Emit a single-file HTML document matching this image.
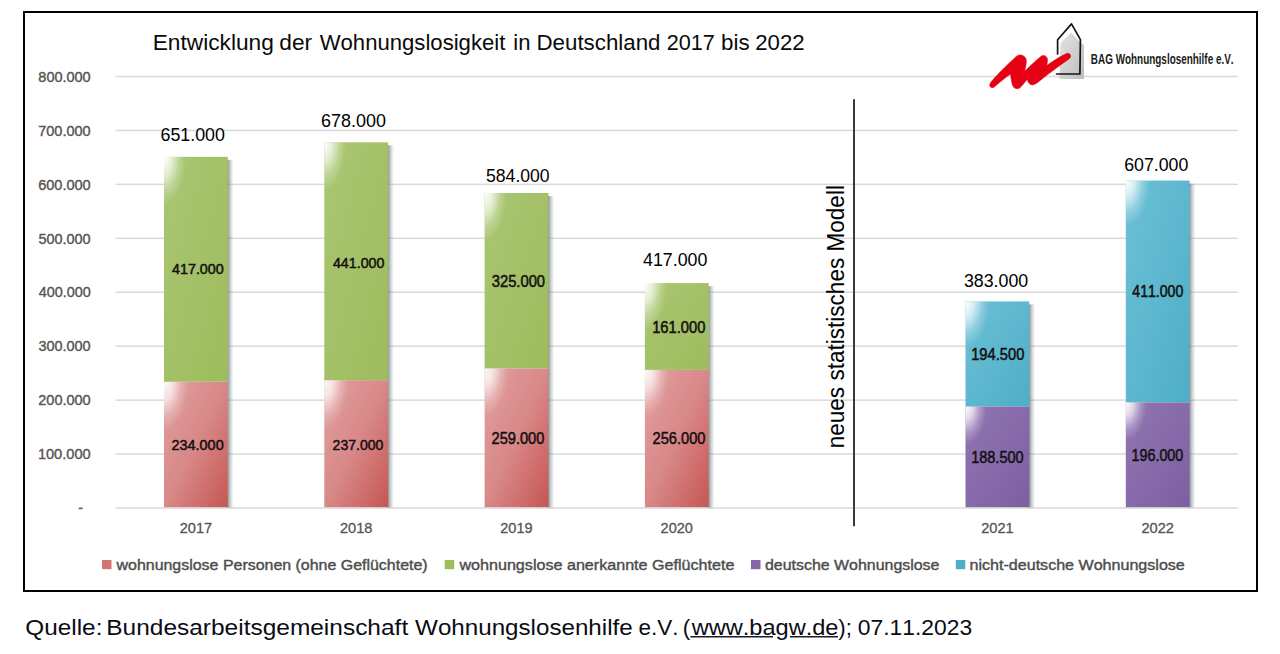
<!DOCTYPE html>
<html><head><meta charset="utf-8"><style>
html,body{margin:0;padding:0;background:#fff;width:1280px;height:654px;overflow:hidden}
svg{display:block;font-family:"Liberation Sans",sans-serif;font-kerning:none}
text{font-kerning:none}
</style></head><body>
<svg width="1280" height="654" viewBox="0 0 1280 654">

<defs><radialGradient id="h1" gradientUnits="userSpaceOnUse" cx="164.00" cy="381.78" fx="164.00" fy="381.78" r="24" gradientTransform="translate(164.00,381.78) scale(1,2.0) translate(-164.00,-381.78)"><stop offset="0" stop-color="#fff" stop-opacity="0.92"/><stop offset="0.35" stop-color="#fff" stop-opacity="0.72"/><stop offset="0.7" stop-color="#fff" stop-opacity="0.25"/><stop offset="1" stop-color="#fff" stop-opacity="0"/></radialGradient><radialGradient id="h2" gradientUnits="userSpaceOnUse" cx="164.00" cy="156.85" fx="164.00" fy="156.85" r="22" gradientTransform="translate(164.00,156.85) scale(1,2.2) translate(-164.00,-156.85)"><stop offset="0" stop-color="#fff" stop-opacity="1"/><stop offset="0.35" stop-color="#fff" stop-opacity="0.72"/><stop offset="0.7" stop-color="#fff" stop-opacity="0.25"/><stop offset="1" stop-color="#fff" stop-opacity="0"/></radialGradient><radialGradient id="h3" gradientUnits="userSpaceOnUse" cx="324.30" cy="380.16" fx="324.30" fy="380.16" r="24" gradientTransform="translate(324.30,380.16) scale(1,2.0) translate(-324.30,-380.16)"><stop offset="0" stop-color="#fff" stop-opacity="0.92"/><stop offset="0.35" stop-color="#fff" stop-opacity="0.72"/><stop offset="0.7" stop-color="#fff" stop-opacity="0.25"/><stop offset="1" stop-color="#fff" stop-opacity="0"/></radialGradient><radialGradient id="h4" gradientUnits="userSpaceOnUse" cx="324.30" cy="142.29" fx="324.30" fy="142.29" r="22" gradientTransform="translate(324.30,142.29) scale(1,2.2) translate(-324.30,-142.29)"><stop offset="0" stop-color="#fff" stop-opacity="1"/><stop offset="0.35" stop-color="#fff" stop-opacity="0.72"/><stop offset="0.7" stop-color="#fff" stop-opacity="0.25"/><stop offset="1" stop-color="#fff" stop-opacity="0"/></radialGradient><radialGradient id="h5" gradientUnits="userSpaceOnUse" cx="484.60" cy="368.30" fx="484.60" fy="368.30" r="24" gradientTransform="translate(484.60,368.30) scale(1,2.0) translate(-484.60,-368.30)"><stop offset="0" stop-color="#fff" stop-opacity="0.92"/><stop offset="0.35" stop-color="#fff" stop-opacity="0.72"/><stop offset="0.7" stop-color="#fff" stop-opacity="0.25"/><stop offset="1" stop-color="#fff" stop-opacity="0"/></radialGradient><radialGradient id="h6" gradientUnits="userSpaceOnUse" cx="484.60" cy="192.99" fx="484.60" fy="192.99" r="22" gradientTransform="translate(484.60,192.99) scale(1,2.2) translate(-484.60,-192.99)"><stop offset="0" stop-color="#fff" stop-opacity="1"/><stop offset="0.35" stop-color="#fff" stop-opacity="0.72"/><stop offset="0.7" stop-color="#fff" stop-opacity="0.25"/><stop offset="1" stop-color="#fff" stop-opacity="0"/></radialGradient><radialGradient id="h7" gradientUnits="userSpaceOnUse" cx="644.90" cy="369.91" fx="644.90" fy="369.91" r="24" gradientTransform="translate(644.90,369.91) scale(1,2.0) translate(-644.90,-369.91)"><stop offset="0" stop-color="#fff" stop-opacity="0.92"/><stop offset="0.35" stop-color="#fff" stop-opacity="0.72"/><stop offset="0.7" stop-color="#fff" stop-opacity="0.25"/><stop offset="1" stop-color="#fff" stop-opacity="0"/></radialGradient><radialGradient id="h8" gradientUnits="userSpaceOnUse" cx="644.90" cy="283.07" fx="644.90" fy="283.07" r="22" gradientTransform="translate(644.90,283.07) scale(1,2.2) translate(-644.90,-283.07)"><stop offset="0" stop-color="#fff" stop-opacity="1"/><stop offset="0.35" stop-color="#fff" stop-opacity="0.72"/><stop offset="0.7" stop-color="#fff" stop-opacity="0.25"/><stop offset="1" stop-color="#fff" stop-opacity="0"/></radialGradient><radialGradient id="h9" gradientUnits="userSpaceOnUse" cx="965.50" cy="406.32" fx="965.50" fy="406.32" r="21" gradientTransform="translate(965.50,406.32) scale(1,1.8) translate(-965.50,-406.32)"><stop offset="0" stop-color="#fff" stop-opacity="1"/><stop offset="0.35" stop-color="#fff" stop-opacity="0.72"/><stop offset="0.7" stop-color="#fff" stop-opacity="0.25"/><stop offset="1" stop-color="#fff" stop-opacity="0"/></radialGradient><radialGradient id="h10" gradientUnits="userSpaceOnUse" cx="965.50" cy="301.41" fx="965.50" fy="301.41" r="24" gradientTransform="translate(965.50,301.41) scale(1,1.9) translate(-965.50,-301.41)"><stop offset="0" stop-color="#fff" stop-opacity="1"/><stop offset="0.35" stop-color="#fff" stop-opacity="0.72"/><stop offset="0.7" stop-color="#fff" stop-opacity="0.25"/><stop offset="1" stop-color="#fff" stop-opacity="0"/></radialGradient><radialGradient id="h11" gradientUnits="userSpaceOnUse" cx="1125.80" cy="402.28" fx="1125.80" fy="402.28" r="21" gradientTransform="translate(1125.80,402.28) scale(1,1.8) translate(-1125.80,-402.28)"><stop offset="0" stop-color="#fff" stop-opacity="1"/><stop offset="0.35" stop-color="#fff" stop-opacity="0.72"/><stop offset="0.7" stop-color="#fff" stop-opacity="0.25"/><stop offset="1" stop-color="#fff" stop-opacity="0"/></radialGradient><radialGradient id="h12" gradientUnits="userSpaceOnUse" cx="1125.80" cy="180.58" fx="1125.80" fy="180.58" r="24" gradientTransform="translate(1125.80,180.58) scale(1,1.9) translate(-1125.80,-180.58)"><stop offset="0" stop-color="#fff" stop-opacity="1"/><stop offset="0.35" stop-color="#fff" stop-opacity="0.72"/><stop offset="0.7" stop-color="#fff" stop-opacity="0.25"/><stop offset="1" stop-color="#fff" stop-opacity="0"/></radialGradient>
 <linearGradient id="g_red" x1="0" y1="0" x2="1" y2="1">
   <stop offset="0" stop-color="#e2a0a0"/>
   <stop offset="0.5" stop-color="#d88888"/>
   <stop offset="1" stop-color="#c65652"/>
 </linearGradient>
 <linearGradient id="g_green" x1="0" y1="0" x2="1" y2="1">
   <stop offset="0" stop-color="#a9c673"/>
   <stop offset="1" stop-color="#9ebc5c"/>
 </linearGradient>
 <linearGradient id="g_purple" x1="0" y1="0" x2="1" y2="1">
   <stop offset="0" stop-color="#9176b3"/>
   <stop offset="1" stop-color="#7d5fa0"/>
 </linearGradient>
 <linearGradient id="g_cyan" x1="0" y1="0" x2="1" y2="1">
   <stop offset="0" stop-color="#6cc0d6"/>
   <stop offset="1" stop-color="#4eaec7"/>
 </linearGradient>
 <radialGradient id="hl" gradientUnits="objectBoundingBox" cx="0" cy="0" r="0.35" fx="0" fy="0">
   <stop offset="0" stop-color="#fff" stop-opacity="1"/>
   <stop offset="1" stop-color="#fff" stop-opacity="0"/>
 </radialGradient>
 <linearGradient id="g_house" x1="0" y1="0" x2="1" y2="1">
   <stop offset="0" stop-color="#e4e4e4"/>
   <stop offset="1" stop-color="#bdbdbd"/>
 </linearGradient>
 <linearGradient id="shd" x1="0" y1="0" x2="1" y2="0"><stop offset="0" stop-color="#56636a" stop-opacity="0.75"/><stop offset="0.4" stop-color="#7a8488" stop-opacity="0.45"/><stop offset="1" stop-color="#9aa" stop-opacity="0"/></linearGradient>
 <filter id="blur" x="-1" y="-0.1" width="3" height="1.2"><feGaussianBlur stdDeviation="0.5"/></filter>
</defs>

<rect x="0" y="0" width="1280" height="654" fill="#fff"/>
<rect x="24" y="12" width="1233" height="579" fill="none" stroke="#000" stroke-width="2"/>
<rect x="115.5" y="507.25" width="1122.5" height="1.5" fill="#d9d9d9"/>
<rect x="115.5" y="453.31" width="1122.5" height="1.5" fill="#d9d9d9"/>
<rect x="115.5" y="399.37" width="1122.5" height="1.5" fill="#d9d9d9"/>
<rect x="115.5" y="345.43" width="1122.5" height="1.5" fill="#d9d9d9"/>
<rect x="115.5" y="291.49" width="1122.5" height="1.5" fill="#d9d9d9"/>
<rect x="115.5" y="237.55" width="1122.5" height="1.5" fill="#d9d9d9"/>
<rect x="115.5" y="183.61" width="1122.5" height="1.5" fill="#d9d9d9"/>
<rect x="115.5" y="129.67" width="1122.5" height="1.5" fill="#d9d9d9"/>
<rect x="115.5" y="75.73" width="1122.5" height="1.5" fill="#d9d9d9"/>
<text transform="translate(37.89,459.26) scale(0.9615,1)" font-size="15.19" font-weight="normal" fill="#555" stroke="#555" stroke-width="0.4">100.000</text>
<text transform="translate(38.27,405.32) scale(0.9545,1)" font-size="15.19" font-weight="normal" fill="#555" stroke="#555" stroke-width="0.4">200.000</text>
<text transform="translate(38.45,351.38) scale(0.9512,1)" font-size="15.19" font-weight="normal" fill="#555" stroke="#555" stroke-width="0.4">300.000</text>
<text transform="translate(38.67,297.44) scale(0.9471,1)" font-size="15.19" font-weight="normal" fill="#555" stroke="#555" stroke-width="0.4">400.000</text>
<text transform="translate(38.42,243.50) scale(0.9517,1)" font-size="15.19" font-weight="normal" fill="#555" stroke="#555" stroke-width="0.4">500.000</text>
<text transform="translate(38.26,189.56) scale(0.9546,1)" font-size="15.19" font-weight="normal" fill="#555" stroke="#555" stroke-width="0.4">600.000</text>
<text transform="translate(38.26,135.62) scale(0.9547,1)" font-size="15.19" font-weight="normal" fill="#555" stroke="#555" stroke-width="0.4">700.000</text>
<text transform="translate(38.37,81.68) scale(0.9526,1)" font-size="15.19" font-weight="normal" fill="#555" stroke="#555" stroke-width="0.4">800.000</text>
<rect x="78.7" y="507.6" width="3.8" height="1.6" fill="#595959"/>
<rect x="227.30" y="159.85" width="6.5" height="347.65" fill="url(#shd)" filter="url(#blur)"/>
<rect x="164.00" y="381.78" width="63.8" height="125.42" fill="url(#g_red)"/>
<rect x="164.00" y="381.78" width="63.8" height="125.42" fill="url(#h1)"/>
<rect x="164.00" y="156.85" width="63.8" height="224.93" fill="url(#g_green)"/>
<rect x="164.00" y="156.85" width="63.8" height="224.93" fill="url(#h2)"/>
<text transform="translate(179.67,532.80) scale(0.9795,1)" font-size="14.90" font-weight="normal" fill="#555" stroke="#555" stroke-width="0.3">2017</text>
<rect x="387.60" y="145.29" width="6.5" height="362.21" fill="url(#shd)" filter="url(#blur)"/>
<rect x="324.30" y="380.16" width="63.8" height="127.04" fill="url(#g_red)"/>
<rect x="324.30" y="380.16" width="63.8" height="127.04" fill="url(#h3)"/>
<rect x="324.30" y="142.29" width="63.8" height="237.88" fill="url(#g_green)"/>
<rect x="324.30" y="142.29" width="63.8" height="237.88" fill="url(#h4)"/>
<text transform="translate(339.97,532.80) scale(0.9764,1)" font-size="14.90" font-weight="normal" fill="#555" stroke="#555" stroke-width="0.3">2018</text>
<rect x="547.90" y="195.99" width="6.5" height="311.51" fill="url(#shd)" filter="url(#blur)"/>
<rect x="484.60" y="368.30" width="63.8" height="138.90" fill="url(#g_red)"/>
<rect x="484.60" y="368.30" width="63.8" height="138.90" fill="url(#h5)"/>
<rect x="484.60" y="192.99" width="63.8" height="175.30" fill="url(#g_green)"/>
<rect x="484.60" y="192.99" width="63.8" height="175.30" fill="url(#h6)"/>
<text transform="translate(500.27,532.80) scale(0.9782,1)" font-size="14.90" font-weight="normal" fill="#555" stroke="#555" stroke-width="0.3">2019</text>
<rect x="708.20" y="286.07" width="6.5" height="221.43" fill="url(#shd)" filter="url(#blur)"/>
<rect x="644.90" y="369.91" width="63.8" height="137.29" fill="url(#g_red)"/>
<rect x="644.90" y="369.91" width="63.8" height="137.29" fill="url(#h7)"/>
<rect x="644.90" y="283.07" width="63.8" height="86.84" fill="url(#g_green)"/>
<rect x="644.90" y="283.07" width="63.8" height="86.84" fill="url(#h8)"/>
<text transform="translate(660.57,532.80) scale(0.9744,1)" font-size="14.90" font-weight="normal" fill="#555" stroke="#555" stroke-width="0.3">2020</text>
<rect x="1028.80" y="304.41" width="6.5" height="203.09" fill="url(#shd)" filter="url(#blur)"/>
<rect x="965.50" y="406.32" width="63.8" height="100.88" fill="url(#g_purple)"/>
<rect x="965.50" y="406.32" width="63.8" height="100.88" fill="url(#h9)"/>
<rect x="965.50" y="301.41" width="63.8" height="104.91" fill="url(#g_cyan)"/>
<rect x="965.50" y="301.41" width="63.8" height="104.91" fill="url(#h10)"/>
<text transform="translate(981.17,532.80) scale(0.9789,1)" font-size="14.90" font-weight="normal" fill="#555" stroke="#555" stroke-width="0.3">2021</text>
<rect x="1189.10" y="183.58" width="6.5" height="323.92" fill="url(#shd)" filter="url(#blur)"/>
<rect x="1125.80" y="402.28" width="63.8" height="104.92" fill="url(#g_purple)"/>
<rect x="1125.80" y="402.28" width="63.8" height="104.92" fill="url(#h11)"/>
<rect x="1125.80" y="180.58" width="63.8" height="221.69" fill="url(#g_cyan)"/>
<rect x="1125.80" y="180.58" width="63.8" height="221.69" fill="url(#h12)"/>
<text transform="translate(1141.47,532.80) scale(0.9795,1)" font-size="14.90" font-weight="normal" fill="#555" stroke="#555" stroke-width="0.3">2022</text>
<text transform="translate(160.49,141.20) scale(0.9655,1)" font-size="18.48" font-weight="normal" fill="#000" >651.000</text>
<text transform="translate(321.09,127.00) scale(0.9642,1)" font-size="18.62" font-weight="normal" fill="#000" >678.000</text>
<text transform="translate(485.99,182.10) scale(0.9919,1)" font-size="17.77" font-weight="normal" fill="#000" >584.000</text>
<text transform="translate(642.99,266.00) scale(1.0029,1)" font-size="17.77" font-weight="normal" fill="#000" >417.000</text>
<text transform="translate(963.92,287.00) scale(0.9562,1)" font-size="18.62" font-weight="normal" fill="#000" >383.000</text>
<text transform="translate(1124.20,171.20) scale(0.9901,1)" font-size="17.91" font-weight="normal" fill="#000" >607.000</text>
<text transform="translate(172.07,274.40) scale(0.9961,1)" font-size="14.33" font-weight="normal" fill="#141010" stroke="#141010" stroke-width="0.5">417.000</text>
<text transform="translate(332.97,267.50) scale(0.9360,1)" font-size="15.19" font-weight="normal" fill="#141010" stroke="#141010" stroke-width="0.5">441.000</text>
<text transform="translate(171.58,450.40) scale(1.0058,1)" font-size="14.33" font-weight="normal" fill="#141010" stroke="#141010" stroke-width="0.5">234.000</text>
<text transform="translate(332.59,449.70) scale(0.9801,1)" font-size="14.33" font-weight="normal" fill="#141010" stroke="#141010" stroke-width="0.5">237.000</text>
<text transform="translate(491.74,286.80) scale(0.9363,1)" font-size="15.76" font-weight="normal" fill="#141010" stroke="#141010" stroke-width="0.5">325.000</text>
<text transform="translate(652.18,332.50) scale(0.9356,1)" font-size="15.76" font-weight="normal" fill="#141010" stroke="#141010" stroke-width="0.5">161.000</text>
<text transform="translate(491.57,444.00) scale(0.9270,1)" font-size="15.76" font-weight="normal" fill="#141010" stroke="#141010" stroke-width="0.5">259.000</text>
<text transform="translate(652.56,444.00) scale(0.9288,1)" font-size="15.76" font-weight="normal" fill="#141010" stroke="#141010" stroke-width="0.5">256.000</text>
<text transform="translate(971.18,360.10) scale(0.9338,1)" font-size="15.76" font-weight="normal" fill="#141010" stroke="#141010" stroke-width="0.5">194.500</text>
<text transform="translate(971.19,462.80) scale(0.8660,1)" font-size="16.76" font-weight="normal" fill="#141010" stroke="#141010" stroke-width="0.5">188.500</text>
<text transform="translate(1132.28,296.80) scale(0.8966,1)" font-size="15.76" font-weight="normal" fill="#141010" stroke="#141010" stroke-width="0.5">411.000</text>
<text transform="translate(1131.51,461.00) scale(0.8558,1)" font-size="16.76" font-weight="normal" fill="#141010" stroke="#141010" stroke-width="0.5">196.000</text>
<text transform="translate(152.64,49.80) scale(1.0327,1)" font-size="22.00" font-weight="normal" fill="#0a0a0a" >Entwicklung</text>
<text transform="translate(279.25,49.80) scale(1.0325,1)" font-size="22.00" font-weight="normal" fill="#0a0a0a" >der</text>
<text transform="translate(319.70,49.80) scale(1.0060,1)" font-size="22.00" font-weight="normal" fill="#0a0a0a" >Wohnungslosigkeit</text>
<text transform="translate(536.47,49.80) scale(1.0145,1)" font-size="22.00" font-weight="normal" fill="#0a0a0a" >Deutschland</text>
<text transform="translate(666.71,49.80) scale(0.9844,1)" font-size="22.00" font-weight="normal" fill="#0a0a0a" >2017</text>
<text transform="translate(721.06,49.80) scale(1.0150,1)" font-size="22.00" font-weight="normal" fill="#0a0a0a" >bis</text>
<text transform="translate(755.28,49.80) scale(1.0079,1)" font-size="22.00" font-weight="normal" fill="#0a0a0a" >2022</text>
<text transform="translate(513.32,49.80) scale(1.0000,1)" font-size="22.00" font-weight="normal" fill="#0a0a0a" >in</text>
<rect x="853" y="99.2" width="2" height="427" fill="#3a3a3a"/>
<g transform="translate(844.3,632.5) rotate(-90)"><text transform="translate(184.20,0.00) scale(0.9812,1)" font-size="23.00" font-weight="normal" fill="#000" >neues statistisches Modell</text></g>
<rect x="102.00" y="560" width="9.5" height="9.2" fill="#d27474"/>
<text transform="translate(116.52,569.70) scale(1.0782,1)" font-size="14.80" font-weight="normal" fill="#4d4d4d" stroke="#4d4d4d" stroke-width="0.4">wohnungslose Personen (ohne Geflüchtete)</text>
<rect x="444.70" y="560" width="9.5" height="9.2" fill="#9cbd5a"/>
<text transform="translate(459.42,569.70) scale(1.0891,1)" font-size="14.80" font-weight="normal" fill="#4d4d4d" stroke="#4d4d4d" stroke-width="0.4">wohnungslose anerkannte Geflüchtete</text>
<rect x="751.00" y="560" width="9.5" height="9.2" fill="#8267a6"/>
<text transform="translate(764.93,569.70) scale(1.0771,1)" font-size="14.80" font-weight="normal" fill="#4d4d4d" stroke="#4d4d4d" stroke-width="0.4">deutsche Wohnungslose</text>
<rect x="955.80" y="560" width="9.5" height="9.2" fill="#4daec6"/>
<text transform="translate(969.53,569.70) scale(1.0873,1)" font-size="14.80" font-weight="normal" fill="#4d4d4d" stroke="#4d4d4d" stroke-width="0.4">nicht-deutsche Wohnungslose</text>

<g>
  <path d="M1060.5,43 L1071,32.5 L1080,42 L1084,45 L1084,79 L1059.5,79 Z" fill="url(#g_house)"/>
  <path d="M1057.6,54 L1057.6,39.7 L1071.5,23.9 L1080.4,39.7 L1079.9,74 L1056.6,74" fill="none" stroke="#161616" stroke-width="1.7" stroke-linejoin="round" stroke-linecap="round"/>
  <path d="M989.8,84.5 C990.8,81 1002,70 1011,61.5 C1014.5,58 1017,55 1020,54.9 C1023.5,54.9 1026.2,57.5 1026.3,60.6 C1026.4,64 1025.3,68.5 1024.6,71.3 C1028,68 1036,60.5 1041.5,56 C1044,54.3 1047.2,56.4 1047.5,59.6 C1047.5,62 1047,64 1046.8,65.4 C1052,62 1060,56.5 1066.5,53.6 C1069,52.6 1071,54.3 1070.5,56.8 C1070,58.6 1068.5,59.4 1067.5,60 C1062,64 1050,72.5 1040.5,80.2 C1037.5,82.7 1034.5,85 1032,84.9 C1029.3,84.6 1028,82 1027.2,79.2 C1025,82 1022,86 1019.5,88 C1017.5,89.2 1014,88.8 1012.8,85.8 C1011.6,82.5 1011,77.5 1010.5,73.9 C1006,77.2 998.5,83 994.5,86.8 C992.5,88.5 989.4,87.8 989.8,84.5 Z" fill="#e50014" stroke="#e50014" stroke-width="0.6" stroke-linejoin="round"/>
</g>

<text transform="translate(1090.84,64.40) scale(0.6830,1)" font-size="14.53" font-weight="bold" fill="#1a1a1a" >BAG Wohnungslosenhilfe e.V.</text>
<text transform="translate(25.35,634.80) scale(1.0716,1)" font-size="22.70" font-weight="normal" fill="#0b0b14" >Quelle:</text>
<text transform="translate(106.29,634.80) scale(1.0780,1)" font-size="22.70" font-weight="normal" fill="#0b0b14" >Bundesarbeitsgemeinschaft</text>
<text transform="translate(415.09,634.80) scale(1.0648,1)" font-size="22.70" font-weight="normal" fill="#0b0b14" >Wohnungslosenhilfe</text>
<text transform="translate(638.44,634.80) scale(0.9908,1)" font-size="22.70" font-weight="normal" fill="#0b0b14" >e.V.</text>
<text transform="translate(691.63,634.80) scale(1.0397,1)" font-size="22.70" font-weight="normal" fill="#0b0b14" >www.bagw.de</text>
<text transform="translate(857.86,634.80) scale(1.0069,1)" font-size="22.70" font-weight="normal" fill="#0b0b14" >07.11.2023</text>
<text transform="translate(682.67,634.80) scale(0.9800,1)" font-size="22.70" font-weight="normal" fill="#0b0b14" >(</text>
<text transform="translate(838.34,634.80) scale(0.9800,1)" font-size="22.70" font-weight="normal" fill="#0b0b14" >);</text>
<rect x="690.4" y="636.0" width="82.6" height="1.5" fill="#1a1a2a"/>
<rect x="790" y="636.0" width="48" height="1.5" fill="#1a1a2a"/>
</svg>
</body></html>
